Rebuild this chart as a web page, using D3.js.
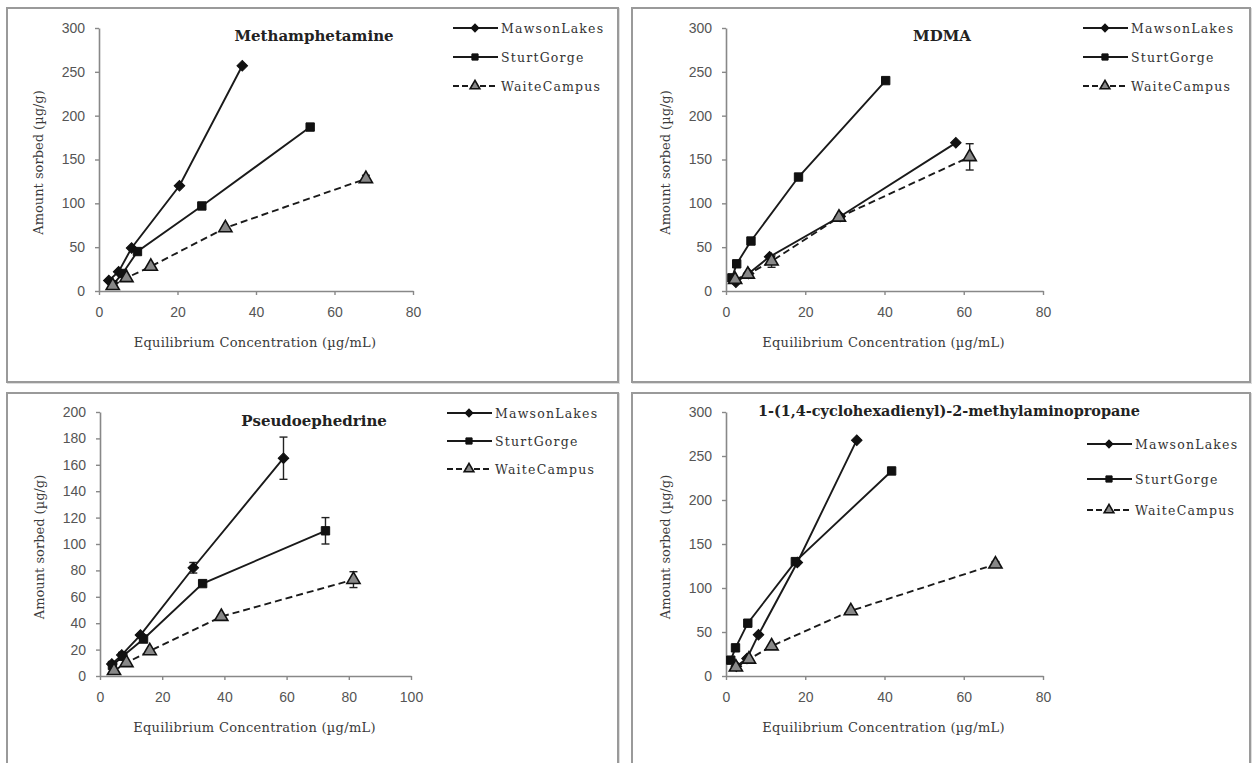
<!DOCTYPE html>
<html>
<head>
<meta charset="utf-8">
<script src="https://cdn.jsdelivr.net/npm/d3@7"></script>
<style>
  body { margin: 0; background: #fff; }
  svg { display: block; }
</style>
</head>
<body>
<svg id="fig" width="1256" height="763"></svg>
<script>
// series names, same in all four panels
const seriesNames = ["MawsonLakes", "SturtGorge", "WaiteCampus"];

// Methamphetamine  [conc, amount]
const methMawson = [[2.5, 12], [5, 22], [8.3, 49], [20.5, 120], [36.5, 257]];
const methSturt  = [[3.5, 7], [6, 20], [9.8, 45], [26.2, 97], [53.8, 187]];
const methWaite  = [[3.5, 6], [7, 15], [13.2, 28], [32.2, 72], [68, 128]];
const methWaiteErr = [0, 0, 0, 0, 4];

// MDMA
const mdmaMawson = [[2.5, 10], [5.7, 20], [11, 39], [28.8, 85], [58, 169]];
const mdmaSturt  = [[1.5, 15], [2.7, 31], [6.3, 57], [18.3, 130], [40.3, 240]];
const mdmaWaite  = [[2.3, 13], [5.5, 19], [11.5, 34], [28.5, 84], [61.5, 153]];
const mdmaWaiteErr = [0, 0, 7, 0, 15];

// Pseudoephedrine
const pseMawson = [[3.8, 9], [7, 16], [13, 31], [30, 82], [59, 165]];
const pseSturt  = [[4, 8], [7.3, 15], [14, 28], [33, 70], [72.5, 110]];
const pseWaite  = [[4.5, 4], [8.5, 10], [16, 19], [39, 45], [81.5, 73]];
const pseMawsonErr = [0, 0, 0, 4, 16];
const pseSturtErr  = [0, 0, 0, 0, 10];
const pseWaiteErr  = [0, 0, 0, 0, 6];

// 1-(1,4-cyclohexadienyl)-2-methylaminopropane
const chmMawson = [[2.6, 11], [5.3, 20], [8.2, 47], [18, 129], [33, 268]];
const chmSturt  = [[1.2, 18], [2.4, 32], [5.5, 60], [17.5, 130], [41.8, 233]];
const chmWaite  = [[2.5, 10], [5.8, 19], [11.5, 34], [31.5, 74], [68, 127]];
const chmWaiteErr = [0, 0, 0, 0, 3];

// tick values
const xTicks80 = [0, 20, 40, 60, 80];
const xTicks100 = [0, 20, 40, 60, 80, 100];
const yTicks300 = [0, 50, 100, 150, 200, 250, 300];
const yTicks200 = [0, 20, 40, 60, 80, 100, 120, 140, 160, 180, 200];

const titles = ["Methamphetamine", "MDMA", "Pseudoephedrine",
  "1-(1,4-cyclohexadienyl)-2-methylaminopropane"];

const svg = d3.select("#fig");
const serif = "DejaVu Serif, Liberation Serif, serif";
const sans = "Liberation Sans, Arial, sans-serif";

const panels = [
  { box: [7, 8, 611, 374], x: [99, 413], y: [291, 28], xMax: 80, yMax: 300,
    xt: xTicks80, yt: yTicks300, title: titles[0], tx: 314, ty: 41, tfs: 15,
    series: [methMawson, methSturt, methWaite], err: [null, null, methWaiteErr],
    leg: [453, [28, 57, 86]] },
  { box: [632, 8, 618, 374], x: [726, 1043], y: [291, 28], xMax: 80, yMax: 300,
    xt: xTicks80, yt: yTicks300, title: titles[1], tx: 942, ty: 41, tfs: 15,
    series: [mdmaMawson, mdmaSturt, mdmaWaite], err: [null, null, mdmaWaiteErr],
    leg: [1083, [28, 57, 86]] },
  { box: [7, 393, 611, 380], x: [100, 411], y: [676, 412], xMax: 100, yMax: 200,
    xt: xTicks100, yt: yTicks200, title: titles[2], tx: 314, ty: 426, tfs: 15,
    series: [pseMawson, pseSturt, pseWaite], err: [pseMawsonErr, pseSturtErr, pseWaiteErr],
    leg: [447, [413, 441, 469]] },
  { box: [632, 393, 618, 380], x: [726, 1043], y: [676, 412], xMax: 80, yMax: 300,
    xt: xTicks80, yt: yTicks300, title: titles[3], tx: 949, ty: 416, tfs: 14, tlen: 382,
    series: [chmMawson, chmSturt, chmWaite], err: [null, null, chmWaiteErr],
    leg: [1087, [444, 479, 510]] }
];

function marker(sel, i, s) {
  // 0 diamond, 1 square, 2 triangle
  if (i === 0) {
    sel.append("path").attr("d", d3.symbol(d3.symbolSquare, 56 * s)())
      .attr("transform", "rotate(45)").attr("fill", "#111").attr("stroke", "#111").attr("stroke-width", 1);
  } else if (i === 1) {
    sel.append("path").attr("d", d3.symbol(d3.symbolSquare, 70 * s)())
      .attr("fill", "#111").attr("stroke", "#111").attr("stroke-width", 1);
  } else {
    sel.append("path").attr("d", d3.symbol(d3.symbolTriangle, 75 * s)())
      .attr("fill", "#888").attr("stroke", "#111").attr("stroke-width", 1.6);
  }
}

panels.forEach(p => {
  const g = svg.append("g");
  const [bx, by, bw, bh] = p.box;
  g.append("rect").attr("x", bx + 1).attr("y", by + 1).attr("width", bw).attr("height", bh)
    .attr("fill", "none").attr("stroke", "#ddd").attr("stroke-width", 2);
  g.append("rect").attr("x", bx).attr("y", by).attr("width", bw).attr("height", bh)
    .attr("fill", "#fff").attr("stroke", "#9a9a9a").attr("stroke-width", 2);

  const x = d3.scaleLinear().domain([0, p.xMax]).range(p.x);
  const y = d3.scaleLinear().domain([0, p.yMax]).range(p.y);

  const xAxis = g.append("g").attr("transform", `translate(0,${p.y[0]})`)
    .call(d3.axisBottom(x).tickValues(p.xt).tickSize(4).tickSizeOuter(0).tickPadding(12));
  const yAxis = g.append("g").attr("transform", `translate(${p.x[0]},0)`)
    .call(d3.axisLeft(y).tickValues(p.yt).tickSize(4).tickSizeOuter(0).tickPadding(10));
  [xAxis, yAxis].forEach(a => {
    a.select(".domain").attr("stroke", "#888").attr("stroke-width", 1.6);
    a.selectAll(".tick line").attr("stroke", "#888").attr("stroke-width", 1.4);
    a.selectAll(".tick text").attr("fill", "#555").attr("font-family", sans).attr("font-size", 14);
  });

  // axis titles
  g.append("text").attr("x", (p.x[0] + p.x[1]) / 2 - 1).attr("y", p.y[0] + 56)
    .attr("text-anchor", "middle").attr("font-family", serif).attr("font-size", 13)
    .attr("letter-spacing", 0.3).attr("fill", "#3a3a3a").text("Equilibrium Concentration (µg/mL)");
  g.append("text").attr("transform", `translate(${p.x[0] - 56},${(p.y[0] + p.y[1]) / 2 + 3}) rotate(-90)`)
    .attr("text-anchor", "middle").attr("font-family", serif).attr("font-size", 13)
    .attr("fill", "#3a3a3a").text("Amount sorbed (µg/g)");

  // title
  const t = g.append("text").attr("x", p.tx).attr("y", p.ty).attr("text-anchor", "middle")
    .attr("font-family", serif).attr("font-weight", "bold").attr("font-size", p.tfs)
    .attr("fill", "#222").text(p.title);
  if (p.tlen) t.attr("textLength", p.tlen).attr("lengthAdjust", "spacingAndGlyphs");

  const line = d3.line().x(d => x(d[0])).y(d => y(d[1]));

  p.series.forEach((s, i) => {
    g.append("path").datum(s).attr("d", line).attr("fill", "none")
      .attr("stroke", "#1a1a1a").attr("stroke-width", 1.9)
      .attr("stroke-dasharray", i === 2 ? "7,4" : null);
    const err = p.err[i];
    if (err) {
      s.forEach((d, k) => {
        if (!err[k]) return;
        const cx = x(d[0]), y1 = y(d[1] - err[k]), y2 = y(d[1] + err[k]);
        g.append("line").attr("x1", cx).attr("x2", cx).attr("y1", y1).attr("y2", y2)
          .attr("stroke", "#222").attr("stroke-width", 1.4);
        [y1, y2].forEach(yy => g.append("line").attr("x1", cx - 4).attr("x2", cx + 4)
          .attr("y1", yy).attr("y2", yy).attr("stroke", "#222").attr("stroke-width", 1.4));
      });
    }
  });
  p.series.forEach((s, i) => {
    s.forEach(d => {
      marker(g.append("g").attr("transform", `translate(${x(d[0])},${y(d[1])})`), i, 1);
    });
  });

  // legend
  const [lx, ly] = p.leg;
  seriesNames.forEach((name, i) => {
    const row = g.append("g").attr("transform", `translate(${lx},${ly[i]})`);
    row.append("line").attr("x1", 0).attr("x2", 45).attr("stroke", "#1a1a1a")
      .attr("stroke-width", 1.8).attr("stroke-dasharray", i === 2 ? "6,3" : null);
    marker(row.append("g").attr("transform", "translate(22,0)"), i, 0.55);
    row.append("text").attr("x", 48).attr("y", 4.5).attr("font-family", serif)
      .attr("font-size", 12.5).attr("letter-spacing", 1.2).attr("fill", "#333").text(name);
  });
});
</script>
</body>
</html>
